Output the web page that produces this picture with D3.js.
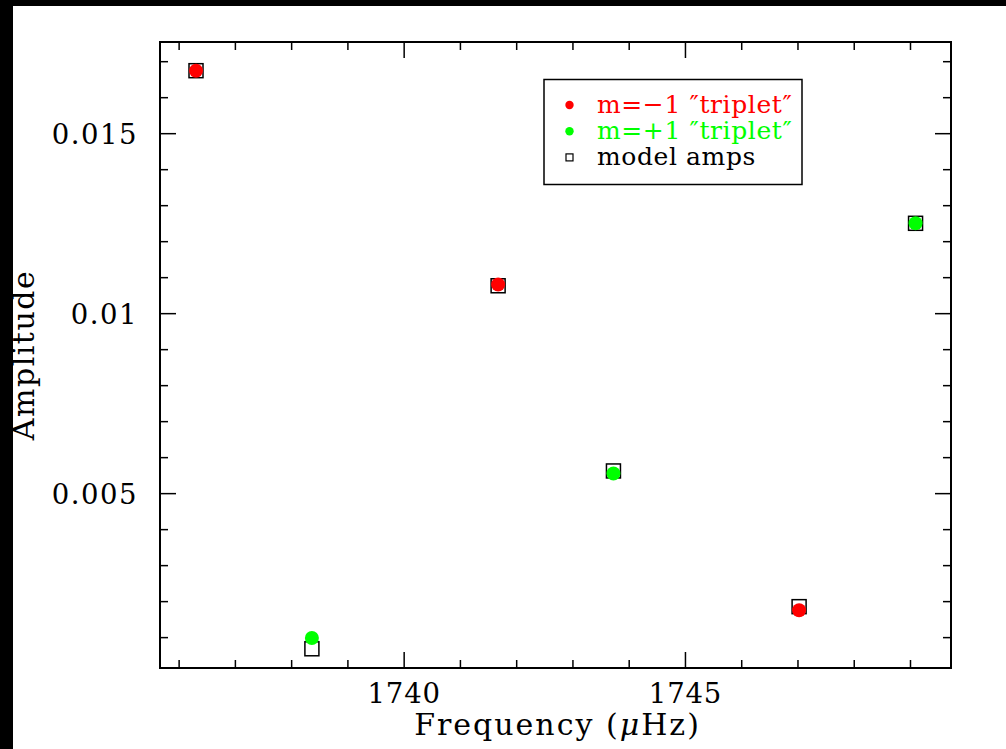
<!DOCTYPE html>
<html>
<head>
<meta charset="utf-8">
<script src="https://cdn.jsdelivr.net/npm/d3@7"></script>
<style>
  html, body { margin: 0; padding: 0; background: #fff; }
  svg { display: block; }
  text { font-family: "DejaVu Serif", serif; fill: #000; }
</style>
</head>
<body>
<svg id="chart" width="1006" height="749"></svg>
<script>
// Observed amplitudes of the m = -1 and m = +1 components, with model amplitudes
const minusFreq = [1736.30, 1741.67, 1747.02];
const minusAmp  = [0.01675, 0.01081, 0.00176];
const plusFreq  = [1738.36, 1743.72, 1749.09];
const plusAmp   = [0.00099, 0.00556, 0.01251];
const modelFreq = [1736.30, 1738.36, 1741.67, 1743.72, 1747.02, 1749.09];
const modelAmp  = [0.01675, 0.00069, 0.010775, 0.00563, 0.00186, 0.01251];

const xMajorTicks = [1740, 1745];
const xTickLabels = ["1740", "1745"];
const yMajorTicks = [0.005, 0.01, 0.015];
const yTickLabels = ["0.005", "0.01", "0.015"];

const legendLabels = ["m=\u22121 \u2033triplet\u2033", "m=+1 \u2033triplet\u2033", "model amps"];
const legendColors = ["#ff0000", "#00ff00", "#000000"];

const W = 1006, H = 749;
const plot = { left: 160, top: 42, right: 951, bottom: 668 };

const svg = d3.select("#chart");

// dark strips along the top and left edge
svg.append("rect").attr("x", 0).attr("y", 0).attr("width", W).attr("height", 6).attr("fill", "#000");
svg.append("rect").attr("x", 0).attr("y", 0).attr("width", 13).attr("height", H).attr("fill", "#000");

const x = d3.scaleLinear().domain([1735.66, 1749.72]).range([plot.left, plot.right]);
const y = d3.scaleLinear().domain([0.000156, 0.017547]).range([plot.bottom, plot.top]);

const xMinor = d3.range(1736, 1750, 1).filter(v => !xMajorTicks.includes(v));
const yMinor = d3.range(1, 18).map(v => v / 1000).filter(v => !yMajorTicks.some(t => Math.abs(t - v) < 1e-9));

const MAJ = 16, MIN = 8;
const tickG = svg.append("g").attr("stroke", "#000").attr("stroke-width", 1.5);

function xTicks(vals, len) {
  vals.forEach(v => {
    tickG.append("line").attr("x1", x(v)).attr("x2", x(v)).attr("y1", plot.bottom).attr("y2", plot.bottom - len);
    tickG.append("line").attr("x1", x(v)).attr("x2", x(v)).attr("y1", plot.top).attr("y2", plot.top + len);
  });
}
function yTicks(vals, len) {
  vals.forEach(v => {
    tickG.append("line").attr("y1", y(v)).attr("y2", y(v)).attr("x1", plot.left).attr("x2", plot.left + len);
    tickG.append("line").attr("y1", y(v)).attr("y2", y(v)).attr("x1", plot.right).attr("x2", plot.right - len);
  });
}
xTicks(xMajorTicks, MAJ);
xTicks(xMinor, MIN);
yTicks(yMajorTicks, MAJ);
yTicks(yMinor, MIN);

// frame
svg.append("rect")
  .attr("x", plot.left).attr("y", plot.top)
  .attr("width", plot.right - plot.left).attr("height", plot.bottom - plot.top)
  .attr("fill", "none").attr("stroke", "#000").attr("stroke-width", 2);

// tick labels
svg.append("g").selectAll("text").data(xMajorTicks).join("text")
  .attr("x", d => x(d)).attr("y", 703)
  .attr("text-anchor", "middle").attr("font-size", 27.5)
  .attr("letter-spacing", 0.8)
  .text((d, i) => xTickLabels[i]);

svg.append("g").selectAll("text").data(yMajorTicks).join("text")
  .attr("x", 138).attr("y", d => y(d))
  .attr("dy", "0.36em")
  .attr("text-anchor", "end").attr("font-size", 27.5)
  .attr("letter-spacing", 1.5)
  .text((d, i) => yTickLabels[i]);

// axis titles
const xt = svg.append("text")
  .attr("x", (plot.left + plot.right) / 2 + 2).attr("y", 735)
  .attr("text-anchor", "middle").attr("font-size", 30)
  .attr("letter-spacing", 2);
xt.append("tspan").text("Frequency (");
xt.append("tspan").attr("font-style", "italic").text("\u03BC");
xt.append("tspan").text("Hz)");

svg.append("text")
  .attr("transform", `translate(34,${(plot.top + plot.bottom) / 2}) rotate(-90)`)
  .attr("text-anchor", "middle").attr("font-size", 30)
  .attr("letter-spacing", 1.5)
  .text("Amplitude");

// model amplitudes (open squares)
const S = 14;
svg.append("g").selectAll("rect").data(modelFreq).join("rect")
  .attr("x", d => x(d) - S / 2)
  .attr("y", (d, i) => y(modelAmp[i]) - S / 2)
  .attr("width", S).attr("height", S)
  .attr("fill", "#fff").attr("stroke", "#000").attr("stroke-width", 1.5);

// observed amplitudes
svg.append("g").selectAll("circle").data(minusFreq).join("circle")
  .attr("cx", d => x(d)).attr("cy", (d, i) => y(minusAmp[i]))
  .attr("r", 7).attr("fill", "#ff0000");
svg.append("g").selectAll("circle").data(plusFreq).join("circle")
  .attr("cx", d => x(d)).attr("cy", (d, i) => y(plusAmp[i]))
  .attr("r", 7).attr("fill", "#00ff00");

// legend
const lg = svg.append("g");
lg.append("rect").attr("x", 544).attr("y", 79.5).attr("width", 258).attr("height", 105)
  .attr("fill", "#fff").attr("stroke", "#000").attr("stroke-width", 1.5);
legendLabels.forEach((lab, i) => {
  const cy = 105 + i * 26.2;
  if (i < 2) {
    lg.append("circle").attr("cx", 569.5).attr("cy", cy).attr("r", 4.2).attr("fill", legendColors[i]);
  } else {
    lg.append("rect").attr("x", 566).attr("y", cy - 3.5).attr("width", 7).attr("height", 7)
      .attr("fill", "none").attr("stroke", "#000").attr("stroke-width", 1.2);
  }
  lg.append("text").attr("x", 597).attr("y", cy + 7.5)
    .attr("font-size", 25).attr("letter-spacing", 0.6)
    .style("fill", legendColors[i]).text(lab);
});
</script>
</body>
</html>
